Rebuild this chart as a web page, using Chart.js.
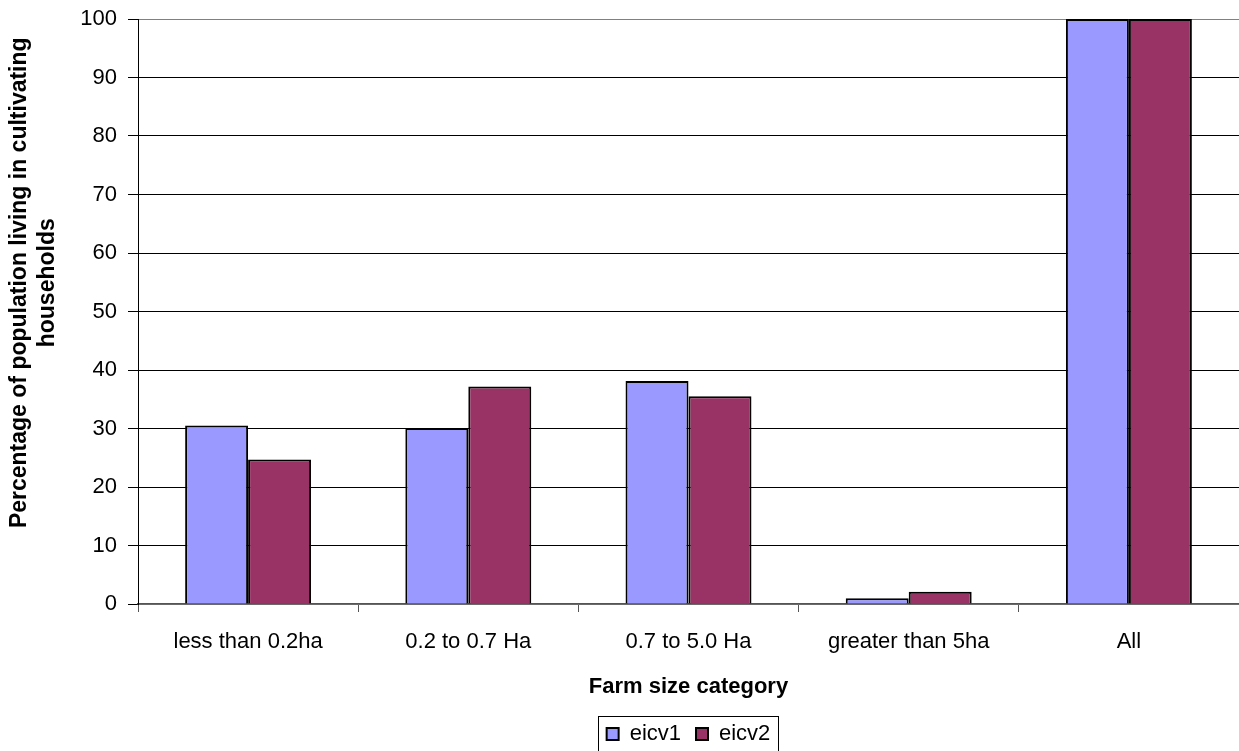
<!DOCTYPE html>
<html>
<head>
<meta charset="utf-8">
<script src="https://cdn.jsdelivr.net/npm/chart.js@4.4.1/dist/chart.umd.min.js"></script>
<style>
  html, body { margin: 0; padding: 0; background: #ffffff; }
  canvas { display: block; }
</style>
</head>
<body>
<canvas id="c" width="1239" height="751"></canvas>
<script>
const categories = ['less than 0.2ha', '0.2 to 0.7 Ha', '0.7 to 5.0 Ha', 'greater than 5ha', 'All'];
const eicv1 = [30.5, 30.1, 38.1, 1.0, 100];
const eicv2 = [24.7, 37.2, 35.5, 2.1, 100];
const seriesNames = ['eicv1', 'eicv2'];
const yTitleLines = ['Percentage of population living in cultivating', 'households'];
const xTitle = 'Farm size category';

const FONT = "'Liberation Sans', Arial, sans-serif";

const legendBorder = {
  id: 'legendBorder',
  afterDraw(chart) {
    const lg = chart.legend;
    if (!lg || !lg.legendHitBoxes || !lg.legendHitBoxes.length) return;
    const hb = lg.legendHitBoxes;
    let l = Infinity, r = -Infinity, t = Infinity;
    hb.forEach(b => { l = Math.min(l, b.left); r = Math.max(r, b.left + b.width); t = Math.min(t, b.top); });
    const ctx = chart.ctx;
    ctx.save();
    ctx.strokeStyle = '#000000';
    ctx.lineWidth = 1;
    ctx.strokeRect(Math.round(l - 9) + 0.5, Math.round(t - 7) + 0.5, Math.round(r - l + 16), 60);
    ctx.restore();
  }
};

const pad = '         ';

new Chart(document.getElementById('c'), {
  type: 'bar',
  data: {
    labels: categories,
    datasets: [
      { label: seriesNames[0], data: eicv1, backgroundColor: '#9999FF', borderColor: '#000000', borderWidth: 2, categoryPercentage: 0.572, barPercentage: 1.0 },
      { label: seriesNames[1], data: eicv2, backgroundColor: '#993366', borderColor: '#000000', borderWidth: 2, categoryPercentage: 0.572, barPercentage: 1.0 }
    ]
  },
  options: {
    responsive: false,
    animation: false,
    devicePixelRatio: 1,
    layout: { padding: { top: 19, left: 0, right: 0, bottom: -4 } },
    plugins: {
      title: { display: false },
      tooltip: { enabled: false },
      legend: {
        display: true,
        position: 'bottom',
        fullSize: false,
        labels: {
          color: '#000000',
          font: { family: FONT, size: 22 },
          boxWidth: 12,
          boxHeight: 12,
          padding: 15
        }
      }
    },
    scales: {
      x: {
        grid: {
          display: true,
          drawOnChartArea: false,
          drawTicks: true,
          tickLength: 8,
          tickColor: '#555555',
          color: '#555555',
          offset: true
        },
        border: { display: true, color: '#555555', width: 1.5 },
        ticks: {
          color: '#000000',
          font: { family: FONT, size: 22 },
          padding: 17,
          maxRotation: 0,
          autoSkip: false
        },
        title: {
          display: true,
          text: xTitle,
          color: '#000000',
          font: { family: FONT, size: 22, weight: 'bold' },
          padding: { top: 0, bottom: 8 }
        },
        afterFit(scale) { scale.height = 104; }
      },
      y: {
        min: 0,
        max: 100,
        grid: {
          color: (c) => (c.tick && (c.tick.value === 100 || c.tick.value === 0)) ? '#808080' : '#000000',
          lineWidth: 1,
          drawTicks: true,
          tickLength: 10,
          tickColor: '#000000'
        },
        border: { display: true, color: '#000000', width: 1 },
        ticks: {
          stepSize: 10,
          color: '#000000',
          font: { family: FONT, size: 22, lineHeight: 0.7 },
          padding: 11
        },
        title: {
          display: true,
          text: [pad + yTitleLines[0], pad + yTitleLines[1]],
          color: '#000000',
          font: { family: FONT, size: 23, weight: 'bold', lineHeight: 1.2 },
          padding: { top: 6, bottom: 0 }
        },
        afterFit(scale) { scale.width = 138; }
      }
    }
  },
  plugins: [legendBorder]
});
</script>
</body>
</html>
